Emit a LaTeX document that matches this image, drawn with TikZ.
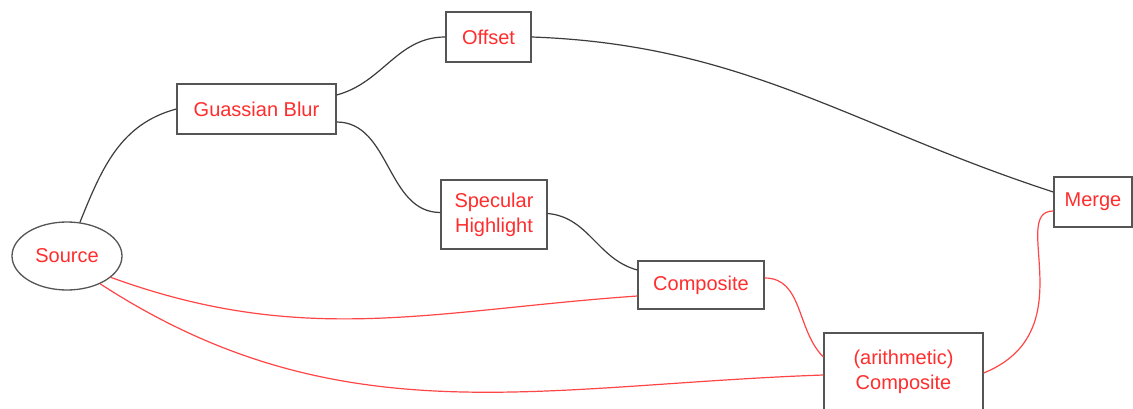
\documentclass[tikz,border=0pt]{standalone}
\usepackage{fontspec}
\setmainfont{Liberation Sans}
\usetikzlibrary{shapes.geometric}
\definecolor{boxgray}{RGB}{85,85,85}
\definecolor{linegray}{RGB}{60,60,60}
\definecolor{txtred}{RGB}{255,45,45}
\definecolor{linered}{RGB}{255,70,70}
\begin{document}
\begin{tikzpicture}[x=1pt,y=1pt,
  every node/.style={font=\fontsize{20pt}{25pt}\selectfont, text=txtred, align=center, inner sep=0pt},
  blk/.style={draw=boxgray, line width=1.3pt, rectangle, fill=white},
  oval/.style={draw=boxgray, line width=1.3pt, ellipse, fill=white},
  gline/.style={draw=linegray, line width=1.2pt},
  rline/.style={draw=linered, line width=1.2pt}]
\useasboundingbox (0,0) rectangle (1133,408);
\fill[white] (0,0) rectangle (1133,408);
% nodes
\node[oval, minimum width=110pt, minimum height=68pt] (src) at (67,152) {Source};
\node[blk, minimum width=159pt, minimum height=50pt] (gb) at (256.5,299) {Guassian Blur};
\node[blk, minimum width=85pt, minimum height=50pt] (off) at (488.5,371) {Offset};
\node[blk, minimum width=106pt, minimum height=69pt] (spec) at (494,193.5) {Specular\\Highlight};
\node[blk, minimum width=126pt, minimum height=48pt] (comp) at (701,123) {Composite};
\node[blk, minimum width=78pt, minimum height=50pt] (merge) at (1093,206) {Merge};
\node[blk, minimum width=159pt, minimum height=78pt] (arith) at (903.5,36) {(arithmetic)\\Composite};
% black connectors
\draw[gline] (src.69) to[out=68, in=195] (gb.west);
\draw[gline] ([yshift=14pt]gb.east) to[out=15, in=180] (off.west);
\draw[gline] ([yshift=-13pt]gb.east) to[out=0, in=180] ([yshift=2pt]spec.west);
\draw[gline] ([yshift=1pt]spec.east) to[out=-5, in=165] ([yshift=15pt]comp.west);
\draw[gline] (off.east) to[out=-2, in=162] ([yshift=10pt]merge.west);
% red connectors
\draw[rline] (src.-26) to[out=-20, in=184] ([yshift=-11pt]comp.west);
\draw[rline] (src.-40) to[out=-33, in=182] ([yshift=-3pt]arith.west);
\draw[rline] ([yshift=7pt]comp.east) to[out=0, in=135] ([yshift=15pt]arith.west);
\draw[rline] ([yshift=-1pt]arith.east) to[out=22, in=180, out distance=110pt, in distance=45pt] ([yshift=-9pt]merge.west);
\end{tikzpicture}
\end{document}
